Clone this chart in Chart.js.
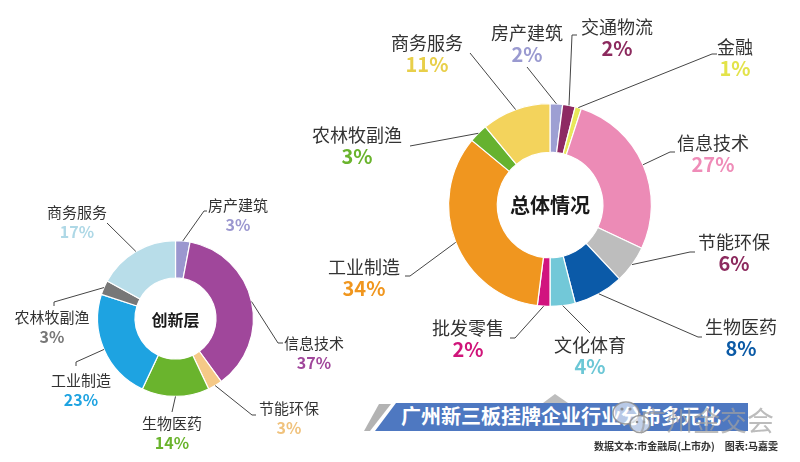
<!DOCTYPE html>
<html><head><meta charset="utf-8">
<script src="https://cdn.jsdelivr.net/npm/chart.js@4.4.1/dist/chart.umd.min.js"></script>
<style>
html,body{margin:0;padding:0;background:#fff;width:800px;height:462px;overflow:hidden;}
#wrap{position:relative;width:800px;height:462px;background:#fff;}
canvas{position:absolute;left:0;top:0;}
#deco{position:absolute;left:0;top:0;}
.t{position:absolute;white-space:nowrap;font-family:"Noto Sans CJK SC",sans-serif;}
</style></head><body>
<div id="wrap">
<svg id="deco" width="800" height="462">
  <polygon points="543,403 555,394 568,403" fill="#bdbdbd"/>
  <polygon points="379,404 391,404 370,431 364,431" fill="#b3b3b3"/>
  <polygon points="396,403 748,403 748,431 375,431" fill="#4e78c1"/>
</svg>
<div class="t" id="banner" style="left:401px;top:401px;font-size:20px;font-weight:700;color:#fff;line-height:30px;"></div>
<canvas id="left" width="800" height="462"></canvas>
<canvas id="right" width="800" height="462"></canvas>
<svg width="800" height="462" style="position:absolute;left:0;top:0;pointer-events:none">
  <ellipse cx="626" cy="413" rx="13" ry="11" fill="rgba(255,255,255,0.6)" stroke="rgba(140,140,140,0.85)" stroke-width="1.5"/>
  <ellipse cx="640" cy="424" rx="10" ry="8.5" fill="rgba(255,255,255,0.65)" stroke="rgba(140,140,140,0.85)" stroke-width="1.5"/>
  <circle cx="622" cy="409" r="1.6" fill="rgba(130,130,130,0.85)"/>
  <circle cx="630" cy="409" r="1.6" fill="rgba(130,130,130,0.85)"/>
  <circle cx="637" cy="422" r="1.3" fill="rgba(130,130,130,0.85)"/>
  <circle cx="644" cy="422" r="1.3" fill="rgba(130,130,130,0.85)"/>
</svg>
<div class="t" id="wm" style="left:639px;top:403px;font-size:27px;font-weight:400;color:rgba(160,160,160,0.7);line-height:34px;"></div>
<div class="t" id="src" style="right:22px;top:439px;font-size:10px;font-weight:700;color:#333;line-height:14px;"></div>
</div>
<script>
// ---- data ----
const leftTitle = '创新层';
const leftCategories = ['房产建筑','信息技术','节能环保','生物医药','工业制造','农林牧副渔','商务服务'];
const leftValues = [3,37,3,14,23,3,17];

const rightTitle = '总体情况';
const rightCategories = ['房产建筑','交通物流','金融','信息技术','节能环保','生物医药','文化体育','批发零售','工业制造','农林牧副渔','商务服务'];
const rightValues = [2,2,1,27,6,8,4,2,34,3,11];

const bannerText = '广州新三板挂牌企业行业分布多元化';
const sourceText = '数据文本:市金融局(上市办)　图表:马嘉雯';
const watermarkText = '广州金交会';

// ---- styles ----
const leftColors = ['#9b97cf','#a0479b','#f5c987','#6ab42d','#1ea3e1','#777777','#b8dde9'];
const leftPctColors = ['#9b97cf','#a0479b','#f0c27c','#6ab42d','#1ea3e1','#777777','#aed8e6'];
const rightColors = ['#9d9fd3','#8e2a63','#e8e85a','#ec8bb6','#bdbdbd','#0b5aa8','#72c8d8','#d1137f','#f0961f','#66b22f','#f3d35c'];
const rightPctColors = ['#9a9ad0','#8c2a5e','#e3e34a','#ef8cb8','#8c2a5e','#0b5aa6','#6cc7d6','#d0157a','#f0961e','#6ab42d','#e8cf4a'];

// ---- label layout (text centres and leader start points) ----
const leftLayout = [
  {x:238,y:205,line:[[207,211],[204,211]]},
  {x:314,y:343,line:[[283,343],[278,343]]},
  {x:289,y:408,line:[[256,415],[252,415]]},
  {x:172,y:423,line:[[172,412]]},
  {x:81,y:380,line:[[76,366],[76,362]]},
  {x:52,y:317,line:[[54,306],[54,302]]},
  {x:77,y:212,line:[[107,223]]}
];
const rightLayout = [
  {x:527,y:33,line:[[527,67]]},
  {x:617,y:27,line:[[577,35],[572,35]]},
  {x:735,y:47,line:[[717,54],[712,54]]},
  {x:713,y:143,line:[[675,152],[670,152]]},
  {x:734,y:242,line:[[695,252],[690,252]]},
  {x:741,y:327,line:[[702,337],[698,337]]},
  {x:590,y:345,line:[[590,333]]},
  {x:468,y:328,line:[[510,338],[515,338]]},
  {x:364,y:267,line:[[405,276],[410,276]]},
  {x:357,y:135,line:[[410,146]]},
  {x:427,y:43,line:[[470,53]]}
];

document.getElementById('banner').textContent = bannerText;
document.getElementById('src').textContent = sourceText;
document.getElementById('wm').textContent = watermarkText;

function labelPlugin(cfg){
  return {
    id:'donutLabels',
    afterDatasetsDraw(chart){
      const ctx = chart.ctx;
      const meta = chart.getDatasetMeta(0);
      ctx.save();
      ctx.textAlign='center'; ctx.textBaseline='middle';
      const a0 = meta.data[0];
      ctx.font = cfg.titleFont; ctx.fillStyle = '#1a1a1a';
      ctx.fillText(cfg.title, a0.x, a0.y + cfg.titleDy);
      meta.data.forEach((arc,i)=>{
        const L = cfg.layout[i];
        const mid = (arc.startAngle + arc.endAngle)/2;
        const ax = arc.x + Math.cos(mid)*arc.outerRadius;
        const ay = arc.y + Math.sin(mid)*arc.outerRadius;
        ctx.beginPath();
        ctx.strokeStyle = '#454545'; ctx.lineWidth = 1;
        ctx.moveTo(L.line[0][0], L.line[0][1]);
        for(let k=1;k<L.line.length;k++) ctx.lineTo(L.line[k][0], L.line[k][1]);
        ctx.lineTo(ax, ay);
        ctx.stroke();
        ctx.font = cfg.nameFont; ctx.fillStyle = '#333';
        ctx.fillText(cfg.categories[i], L.x, L.y);
        ctx.font = cfg.pctFont; ctx.fillStyle = cfg.pctColors[i];
        ctx.fillText(cfg.values[i] + '%', L.x, L.y + cfg.pctDy);
      });
      ctx.restore();
    }
  };
}

function makeDonut(id, cats, vals, colors, padding, plugCfg){
  return new Chart(document.getElementById(id), {
    type:'doughnut',
    data:{labels:cats, datasets:[{data:vals, backgroundColor:colors, borderColor:'#ffffff', borderWidth:1.2, hoverOffset:0, offset:0}]},
    options:{
      responsive:false, animation:false, cutout:'52%',
      layout:{padding:padding},
      events:[],
      plugins:{legend:{display:false}, tooltip:{enabled:false}, title:{display:false}}
    },
    plugins:[labelPlugin(plugCfg)]
  });
}

makeDonut('left', leftCategories, leftValues, leftColors,
  {left:97, top:240, right:546, bottom:65},
  {title:leftTitle, titleFont:'700 16px "Noto Sans CJK SC"', titleDy:1, layout:leftLayout,
   categories:leftCategories, values:leftValues, pctColors:leftPctColors,
   nameFont:'15px "Noto Sans CJK SC"', pctFont:'700 16px "Noto Sans CJK SC"', pctDy:20});

makeDonut('right', rightCategories, rightValues, rightColors,
  {left:448, top:103, right:148, bottom:155},
  {title:rightTitle, titleFont:'700 20px "Noto Sans CJK SC"', titleDy:0, layout:rightLayout,
   categories:rightCategories, values:rightValues, pctColors:rightPctColors,
   nameFont:'18px "Noto Sans CJK SC"', pctFont:'700 20px "Noto Sans CJK SC"', pctDy:21});
</script>
</body></html>
